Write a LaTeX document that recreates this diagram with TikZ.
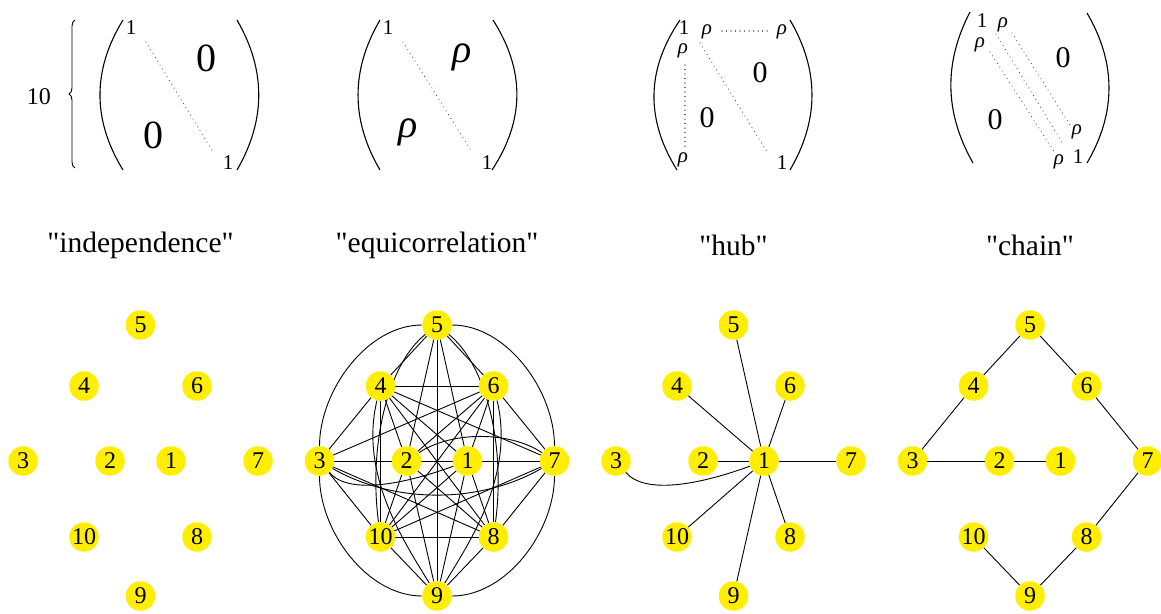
\documentclass[tikz,border=0pt]{standalone}
\usepackage{fontspec}
\setmainfont{Liberation Serif}
\newfontfamily\plainserif{Liberation Serif}
\usetikzlibrary{decorations.pathreplacing, backgrounds}
\definecolor{vertexyellow}{RGB}{255,238,0}

\begin{document}
\begin{tikzpicture}[
        x=1pt, y=-1pt,
        vertex/.style={circle, fill=vertexyellow, minimum size=29.5pt, inner sep=0pt, font=\fontsize{24}{24}\selectfont},
        edge/.style={line width=0.9pt},
        title/.style={inner sep=0pt, font={\plainserif\fontsize{29.5}{30}\selectfont}},
        entry/.style={inner sep=0pt, font=\fontsize{21}{21}\selectfont},
        midentry/.style={inner sep=0pt, font=\fontsize{30}{30}\selectfont},
        bigentry/.style={inner sep=0pt, font=\fontsize{40}{40}\selectfont},
        paren/.style={line width=1.1pt},
        dots/.style={line width=1.2pt, dash pattern=on 0.01pt off 4.5pt, line cap=round, black!70},
        sizebrace/.style={line width=0.9pt, decorate, decoration={brace, amplitude=6pt}}
    ]
        \useasboundingbox (0,0) rectangle (1161,613);

        % Matrix: independence
        \node[entry] (ma1) at (131,28) {1};
        \node[bigentry] (ma2) at (206,58) {0};
        \node[bigentry] (ma3) at (153,135) {0};
        \node[entry] (ma4) at (228,163) {1};
        \draw[dots] (146,42) -- (213,152);
        \draw[paren] (123,20) .. controls (92.3,70) and (92.3,120) .. (123,170);
        \draw[paren] (237,20) .. controls (266,70) and (266,120) .. (237,170);
        \draw[sizebrace] (75,168) -- (75,20);
        \node[entry, font=\fontsize{24}{24}\selectfont] (nsize) at (39,97) {10};

        % Matrix: equicorrelation
        \node[entry] (mb1) at (388,28) {1};
        \node[bigentry] (mb2) at (462,57) {\textit{ρ}};
        \node[bigentry] (mb3) at (408,132) {\textit{ρ}};
        \node[entry] (mb4) at (487,163) {1};
        \draw[dots] (403,42) -- (472,152);
        \draw[paren] (380,20) .. controls (350.7,70) and (350.7,120) .. (380,170);
        \draw[paren] (493,20) .. controls (525,70) and (525,120) .. (492,170);

        % Matrix: hub
        \node[entry] (mc1) at (684,28) {1};
        \node[entry] (mc2) at (707,32) {\textit{ρ}};
        \node[entry] (mc3) at (782,32) {\textit{ρ}};
        \node[entry] (mc4) at (683,51) {\textit{ρ}};
        \node[entry] (mc5) at (683,160) {\textit{ρ}};
        \node[midentry] (mc6) at (760,73) {0};
        \node[midentry] (mc7) at (707,118) {0};
        \node[entry] (mc8) at (782,163) {1};
        \draw[dots] (722,31) -- (768,31);
        \draw[dots] (685,65) -- (685,148);
        \draw[dots] (700,43) -- (767,152);
        \draw[paren] (680,20) .. controls (645.8,70) and (645.8,120) .. (677,170);
        \draw[paren] (790,20) .. controls (819.3,70) and (819.3,120) .. (790,170);

        % Matrix: chain
        \node[entry] (md1) at (982,21) {1};
        \node[entry] (md2) at (1003,25) {\textit{ρ}};
        \node[entry] (md3) at (980,45) {\textit{ρ}};
        \node[midentry] (md4) at (1063,58) {0};
        \node[midentry] (md5) at (995,120) {0};
        \node[entry] (md6) at (1077,132) {\textit{ρ}};
        \node[entry] (md7) at (1059,162) {\textit{ρ}};
        \node[entry] (md8) at (1078,157) {1};
        \draw[dots] (1012,33) -- (1070,125);
        \draw[dots] (996,34) -- (1063,144);
        \draw[dots] (990,52) -- (1055,153);
        \draw[paren] (970,12) .. controls (944,62) and (944,112) .. (973,163);
        \draw[paren] (1087,13) .. controls (1116.3,63) and (1116.3,113) .. (1087,163);

        % Titles
        \node[title] (tind) at (140.5,245) {"independence"};
        \node[title] (tequi) at (437,245) {"equicorrelation"};
        \node[title] (thub) at (733.5,245) {"hub"};
        \node[title] (tchain) at (1030,245) {"chain"};

        % Vertices, same layout in every panel
        \foreach \p/\dx in {i/0, e/296.5, h/593, c/889.5} {
            \begin{scope}[xshift=\dx]
                \foreach \n/\x/\y in {1/171/461, 2/110/461, 3/23/461, 4/84/386, 5/140.5/325,
                                      6/197/386, 7/258/461, 8/197/537, 9/140.5/596, 10/84/537}
                    \node[vertex] (\p\n) at (\x,\y) {\n};
            \end{scope}
        }

        \begin{scope}[on background layer]
            % Equicorrelation: all pairs
            \foreach \a/\b in {1/2, 1/4, 1/5, 1/6, 1/7, 1/8, 1/9, 1/10,
                               2/3, 2/4, 2/5, 2/6, 2/8, 2/9, 2/10,
                               3/4, 3/6, 3/8, 3/10, 4/5, 4/6, 4/7, 4/8, 4/10,
                               5/6, 5/9, 6/7, 6/8, 6/10, 7/8, 7/10, 8/9, 8/10, 9/10}
                \draw[edge] (e\a) -- (e\b);
            \draw[edge] (e3) .. controls +(0,-70) and +(-70,0) .. (e5);
            \draw[edge] (e5) .. controls +(70,0) and +(0,-70) .. (e7);
            \draw[edge] (e3) .. controls +(0,70) and +(-70,0) .. (e9);
            \draw[edge] (e7) .. controls +(0,70) and +(70,0) .. (e9);
            \draw[edge] (e3) .. controls +(30,35) and +(-60,22) .. (e1);
            \draw[edge] (e3) .. controls +(75,43) and +(-75,43) .. (e7);
            \draw[edge] (e2) .. controls +(45,-30) and +(-45,-30) .. (e7);
            \draw[edge] (e5) .. controls +(-50,40) and +(-12,-90) .. (e10);
            \draw[edge] (e5) .. controls +(50,40) and +(12,-90) .. (e8);
            \draw[edge] (e4) .. controls +(-22,90) and +(-30,-50) .. (e9);
            \draw[edge] (e6) .. controls +(22,90) and +(30,-50) .. (e9);

            % Hub: everything to 1
            \foreach \b in {2, 4, 5, 6, 7, 8, 9, 10}
                \draw[edge] (h1) -- (h\b);
            \draw[edge] (h3) .. controls +(30,35) and +(-60,22) .. (h1);

            % Chain
            \foreach \a/\b in {1/2, 2/3, 3/4, 4/5, 5/6, 6/7, 7/8, 8/9, 9/10}
                \draw[edge] (c\a) -- (c\b);
        \end{scope}
\end{tikzpicture}
\end{document}
